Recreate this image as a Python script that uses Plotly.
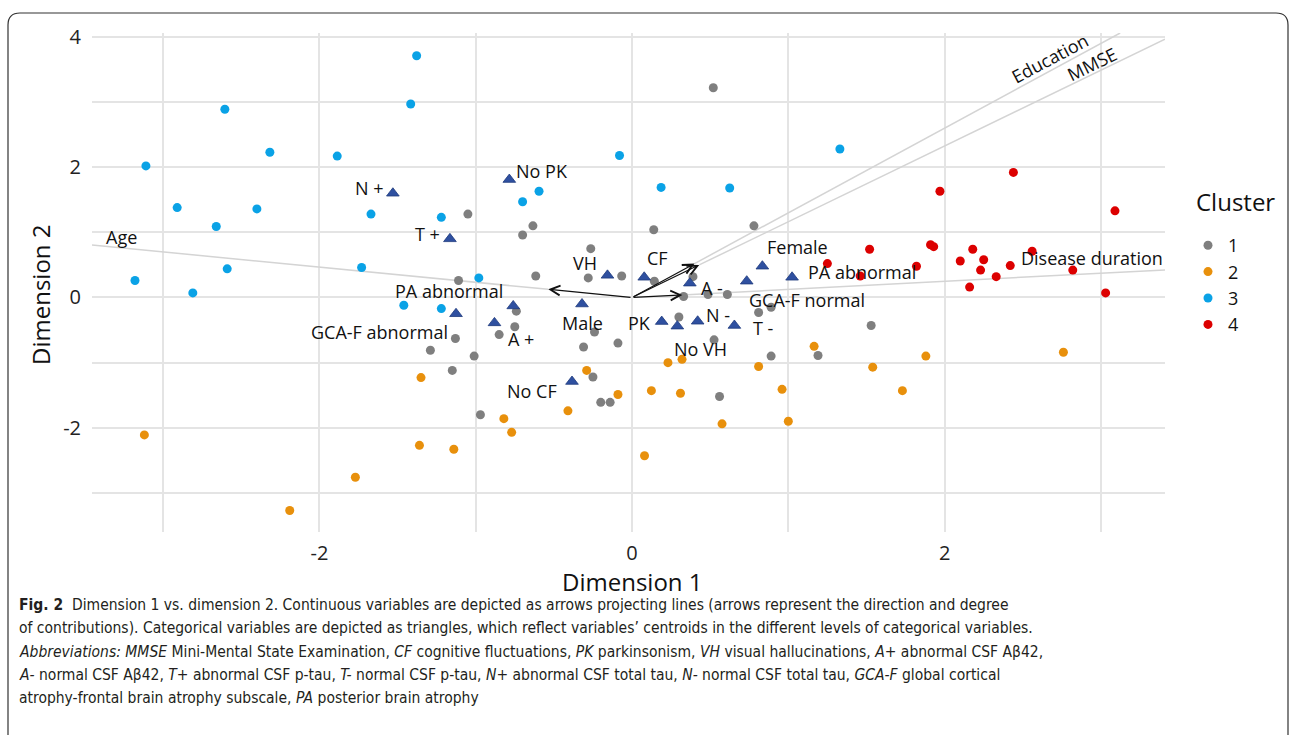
import plotly.graph_objects as go

# ---------------- data ----------------
c1_x = [0.52, -1.05, -0.634, -0.70, 0.139, 0.78, -0.264, -0.616, -0.28, -0.066, 0.143, 0.39, 0.33, 0.486, 0.61,
        -1.11, -0.74, -0.75, -0.85, -1.01, -0.24, -0.31, -0.09, 0.30, 0.525, 0.81, 0.89, 0.89, 1.19, -0.25,
        -0.20, -0.14, -0.97, 0.56, 1.53, -1.13, -1.29, -1.15]
c1_y = [3.22, 1.28, 1.10, 0.96, 1.04, 1.10, 0.75, 0.33, 0.30, 0.33, 0.25, 0.32, 0.015, 0.046, 0.046,
        0.26, -0.21, -0.45, -0.57, -0.90, -0.53, -0.76, -0.70, -0.30, -0.65, -0.23, -0.15, -0.90, -0.89, -1.22,
        -1.61, -1.61, -1.80, -1.52, -0.43, -0.63, -0.81, -1.12]

c2_x = [-1.35, -3.12, -1.36, -1.14, -1.77, -2.19, -0.29, -0.09, -0.41, -0.82, -0.77, 0.124, 0.31, 0.23, 0.32,
        0.08, 0.576, 0.81, 0.96, 1.00, 1.165, 1.54, 1.88, 1.73, 2.76]
c2_y = [-1.23, -2.11, -2.27, -2.33, -2.76, -3.27, -1.12, -1.49, -1.74, -1.86, -2.07, -1.43, -1.47, -1.00, -0.95,
        -2.43, -1.94, -1.06, -1.41, -1.90, -0.75, -1.07, -0.90, -1.43, -0.84]

c3_x = [-1.378, -1.416, -2.605, -2.317, -1.886, -3.11, -2.91, -2.40, -2.66, -1.67, -1.22, -2.59, -1.73, -3.18,
        -2.81, -0.98, -1.46, -1.22, -0.08, -0.595, -0.70, 0.186, 0.625, 1.33]
c3_y = [3.71, 2.97, 2.89, 2.23, 2.17, 2.02, 1.38, 1.36, 1.09, 1.28, 1.23, 0.44, 0.46, 0.26,
        0.07, 0.30, -0.12, -0.17, 2.18, 1.63, 1.47, 1.69, 1.68, 2.28]

c4_x = [2.44, 1.97, 3.09, 1.52, 1.91, 1.93, 2.18, 2.56, 1.25, 1.82, 2.10, 2.25, 2.23, 2.33, 2.42, 2.82, 1.46,
        2.16, 3.03]
c4_y = [1.92, 1.63, 1.33, 0.74, 0.81, 0.78, 0.74, 0.71, 0.52, 0.48, 0.56, 0.58, 0.42, 0.32, 0.49, 0.42, 0.33,
        0.16, 0.07]

clusters = ["1", "2", "3", "4"]
cluster_colors = ["#7F7F7F", "#E8900C", "#0AA2E6", "#DC0000"]

cat_labels = ["N +", "T +", "No PK", "VH", "CF", "A -", "GCA-F normal", "Female", "PA abnormal",
              "PA abnormal", "GCA-F abnormal", "A +", "Male", "PK", "No VH", "N -", "T -", "No CF"]
cat_x = [-1.53, -1.165, -0.785, -0.157, 0.078, 0.37, 0.734, 0.834, 1.024,
         -0.76, -1.126, -0.88, -0.32, 0.19, 0.29, 0.42, 0.655, -0.384]
cat_y = [1.60, 0.90, 1.81, 0.34, 0.31, 0.22, 0.25, 0.48, 0.31,
         -0.13, -0.25, -0.39, -0.10, -0.37, -0.44, -0.365, -0.43, -1.29]
# label placement (style): anchor, x shift, y shift in px
cat_anchor = ["right", "right", "left", "right", "center", "left", "left", "left", "left",
              "right", "right", "left", "center", "right", "left", "left", "left", "right"]
cat_dx = [-7, -8, 5, -8, 13, 9, 0, 3, 14, -8, -6, 12, 0, -9, -5, 6, 17, -13]
cat_dy = [5, 5, 9, 12, 19, -5, -19, 19, 5, 15, -18, -16, -19, -1, -23, 6, -3, -9]

cont_labels = ["Age", "Disease duration", "Education", "MMSE"]
cont_x = [-0.536, 0.322, 0.40, 0.43]
cont_y = [0.125, 0.040, 0.52, 0.50]
cont_anchor = ["left", "right", "center", "center"]
cont_dx = [12, 0, -70, -73]
cont_dy = [8, 12, -25, -25]
cont_angle = [0, 0, -28, -26]

xticks = [-3, -2, -1, 0, 1, 2, 3]
xtick_text = ["", "-2", "", "0", "", "2", ""]
yticks = [-3, -2, -1, 0, 1, 2, 3, 4]
ytick_text = ["", "-2", "", "0", "", "2", "", "4"]

XR = [-3.455, 3.41]
YR = [-3.6, 4.06]

caption_lines = [
    "<b>Fig. 2</b>  Dimension 1 vs. dimension 2. Continuous variables are depicted as arrows projecting lines (arrows represent the direction and degree",
    "of contributions). Categorical variables are depicted as triangles, which reflect variables’ centroids in the different levels of categorical variables.",
    "<i>Abbreviations: MMSE</i> Mini-Mental State Examination, <i>CF</i> cognitive fluctuations, <i>PK</i> parkinsonism, <i>VH</i> visual hallucinations, <i>A</i>+ abnormal CSF Aβ42,",
    "<i>A-</i> normal CSF Aβ42, <i>T</i>+ abnormal CSF p-tau, <i>T-</i> normal CSF p-tau, <i>N</i>+ abnormal CSF total tau, <i>N-</i> normal CSF total tau, <i>GCA-F</i> global cortical",
    "atrophy-frontal brain atrophy subscale, <i>PA</i> posterior brain atrophy",
]

# ---------------- layout geometry ----------------
W, H = 1295, 735
ML, MR, MT, MB = 92, 130, 33, 203
PW, PH = W - ML - MR, H - MT - MB


def px(xp):
    return (xp - ML) / PW


def py(yp):
    return (H - MB - yp) / PH


FONT = "Open Sans, Lato, sans-serif"
CAPFONT = "Liberation Sans Narrow, DejaVu Sans Condensed, Arial Narrow, Liberation Sans, sans-serif"
LABSIZE = 18

fig = go.Figure()

# projection lines for continuous variables (from arrow tip to panel edge)
for lab, vx, vy in zip(cont_labels, cont_x, cont_y):
    tx = (XR[1] if vx > 0 else XR[0]) / vx
    ty = (YR[1] if vy > 0 else YR[0]) / vy
    t = min(tx, ty)
    fig.add_trace(go.Scatter(x=[vx, vx * t], y=[vy, vy * t], mode="lines",
                             line=dict(color="#D4D4D4", width=1.5),
                             showlegend=False, hoverinfo="skip"))

# cluster points
for name, col, xs, ys in zip(clusters, cluster_colors, [c1_x, c2_x, c3_x, c4_x], [c1_y, c2_y, c3_y, c4_y]):
    fig.add_trace(go.Scatter(x=xs, y=ys, mode="markers", name=name,
                             marker=dict(color=col, size=9, line=dict(width=0))))

# categorical centroids
fig.add_trace(go.Scatter(x=cat_x, y=cat_y, mode="markers", showlegend=False,
                         marker=dict(symbol="triangle-up", size=11, color="#2F50A0",
                                     line=dict(color="#1E3A7C", width=0.8))))

annotations = []
# arrows
for vx, vy in zip(cont_x, cont_y):
    annotations.append(dict(x=vx, y=vy, ax=0, ay=0, xref="x", yref="y", axref="x", ayref="y",
                            text="", showarrow=True, arrowhead=5, arrowsize=1.6, arrowwidth=1.2,
                            arrowcolor="#111111", standoff=0))

# continuous labels at the line ends
for lab, vx, vy, anc, dx, dy, ang in zip(cont_labels, cont_x, cont_y, cont_anchor, cont_dx, cont_dy, cont_angle):
    tx = (XR[1] if vx > 0 else XR[0]) / vx
    ty = (YR[1] if vy > 0 else YR[0]) / vy
    t = min(tx, ty)
    annotations.append(dict(x=vx * t, y=vy * t, xref="x", yref="y", text=lab, showarrow=False,
                            xanchor=anc, yanchor="middle", xshift=dx, yshift=dy, textangle=ang,
                            font=dict(family=FONT, size=LABSIZE, color="#111111")))

# categorical labels
for lab, vx, vy, anc, dx, dy in zip(cat_labels, cat_x, cat_y, cat_anchor, cat_dx, cat_dy):
    annotations.append(dict(x=vx, y=vy, xref="x", yref="y", text=lab, showarrow=False,
                            xanchor=anc, yanchor="middle", xshift=dx, yshift=dy,
                            font=dict(family=FONT, size=LABSIZE, color="#111111")))

# axis titles
annotations.append(dict(x=px(632), y=py(581), xref="paper", yref="paper", text="Dimension 1",
                        showarrow=False, xanchor="center", yanchor="middle",
                        font=dict(family=FONT, size=24, color="#111111")))
annotations.append(dict(x=px(40), y=py(295), xref="paper", yref="paper", text="Dimension 2",
                        showarrow=False, xanchor="center", yanchor="middle", textangle=-90,
                        font=dict(family=FONT, size=24, color="#111111")))

# legend title
annotations.append(dict(x=px(1235), y=py(201), xref="paper", yref="paper", text="Cluster",
                        showarrow=False, xanchor="center", yanchor="middle",
                        font=dict(family=FONT, size=24, color="#111111")))

# caption
for i, line in enumerate(caption_lines):
    annotations.append(dict(x=px(17), y=py(605 + i * 23.3), xref="paper", yref="paper", text=line,
                            showarrow=False, xanchor="left", yanchor="middle", align="left",
                            font=dict(family=CAPFONT, size=15.5, color="#231F20")))

# frame (rounded top corners)
L, R, T, B, r = 8, 1288, 13, 760, 12
frame_path = (f"M {px(L)},{py(B)} L {px(L)},{py(T + r)} Q {px(L)},{py(T)} {px(L + r)},{py(T)} "
              f"L {px(R - r)},{py(T)} Q {px(R)},{py(T)} {px(R)},{py(T + r)} L {px(R)},{py(B)}")

fig.update_layout(
    width=W, height=H,
    margin=dict(l=ML, r=MR, t=MT, b=MB),
    paper_bgcolor="white", plot_bgcolor="white",
    font=dict(family=FONT, color="#111111"),
    xaxis=dict(range=XR, tickvals=xticks, ticktext=xtick_text, showgrid=True, gridcolor="#E4E4E4",
               gridwidth=1.5, zeroline=False, showline=False, ticks="", ticklabelstandoff=7,
               tickfont=dict(family=FONT, size=20, color="#222222")),
    yaxis=dict(range=YR, tickvals=yticks, ticktext=ytick_text, showgrid=True, gridcolor="#E4E4E4",
               gridwidth=1.5, zeroline=False, showline=False, ticks="", ticklabelstandoff=10,
               tickfont=dict(family=FONT, size=20, color="#222222")),
    legend=dict(x=px(1188), y=py(227), xanchor="left", yanchor="top",
                font=dict(family=FONT, size=18, color="#111111"), tracegroupgap=0,
                itemwidth=30, bgcolor="rgba(0,0,0,0)"),
    annotations=annotations,
    shapes=[dict(type="path", path=frame_path, xref="paper", yref="paper",
                 line=dict(color="#333333", width=1.2))],
    showlegend=True,
)

fig.write_html("out.html")
